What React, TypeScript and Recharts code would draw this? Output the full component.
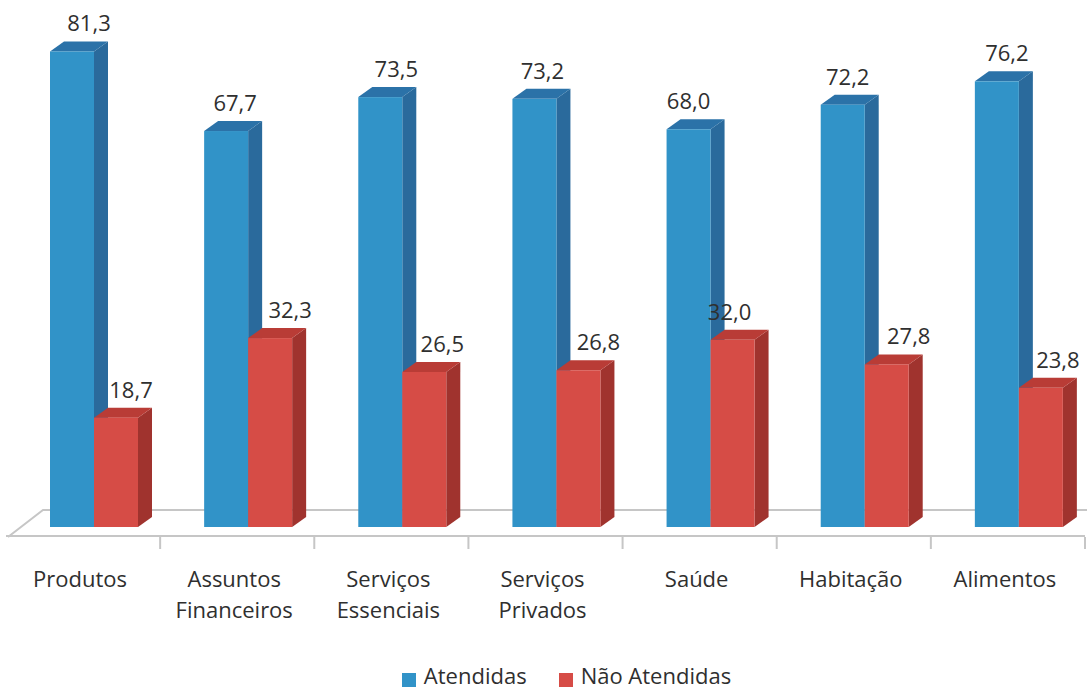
import { BarChart, Bar, XAxis, YAxis, Legend, LabelList, Customized } from "recharts";

const categories = ["Produtos", "Assuntos Financeiros", "Serviços Essenciais", "Serviços Privados", "Saúde", "Habitação", "Alimentos"];
const atendidas = [81.3, 67.7, 73.5, 73.2, 68.0, 72.2, 76.2];
const naoAtendidas = [18.7, 32.3, 26.5, 26.8, 32.0, 27.8, 23.8];

// the labels in the picture are hand-placed, so each one has its own nudge
const atendidasNudge = [17, 9, 16, 8, 0, 5, 10];
const naoAtendidasNudge = [15, 20, 18, 20, -3, 22, 17];

const data = categories.map((name, i) => ({ name, atendidas: atendidas[i], naoAtendidas: naoAtendidas[i] }));

const W = 1087;
const H = 689;
const AXIS_Y = 537;
const BAND = 154.14;
const FONT = "'Open Sans', sans-serif";
const TEXT = "#2f2f2f";
const GRID = "#c6c6c6";

// the 3d bars sit on the floor, up and right of the axis
const SHIFT_X = 11;
const SHIFT_Y = -9;
const DEPTH_X = 14;
const DEPTH_Y = -10;

function Bar3d({ x, y, width, height, front, top, side }: any) {
  const l = x + SHIFT_X;
  const r = l + width;
  const t = y + SHIFT_Y;
  const b = t + height;
  return (
    <g>
      <polygon points={`${r},${t} ${r + DEPTH_X},${t + DEPTH_Y} ${r + DEPTH_X},${b + DEPTH_Y} ${r},${b}`} fill={side} />
      <polygon points={`${l},${t} ${l + DEPTH_X},${t + DEPTH_Y} ${r + DEPTH_X},${t + DEPTH_Y} ${r},${t}`} fill={top} />
      <rect x={l} y={t} width={width} height={height} fill={front} />
    </g>
  );
}

function Floor() {
  return <polyline points={`8,${AXIS_Y} 43,510 ${W},510`} fill="none" stroke={GRID} strokeWidth={2} />;
}

function CategoryTick({ x, payload }: any) {
  const lines = String(payload.value).split(" ");
  return (
    <g>
      <line x1={x + BAND / 2} x2={x + BAND / 2} y1={AXIS_Y} y2={AXIS_Y + 12} stroke={GRID} strokeWidth={2} />
      {lines.map((line, i) => (
        <text key={line} x={x - 3} y={587 + i * 31} textAnchor="middle" fontFamily={FONT} fontSize={22} fill={TEXT}>
          {line}
        </text>
      ))}
    </g>
  );
}

function valueLabel(nudge: number[]) {
  return ({ x, y, width, value, index }: any) => (
    <text
      x={x + SHIFT_X + width / 2 + nudge[index]}
      y={y + SHIFT_Y - 20}
      textAnchor="middle"
      fontFamily={FONT}
      fontSize={22}
      fill={TEXT}
    >
      {Number(value).toFixed(1).replace(".", ",")}
    </text>
  );
}

export default function App() {
  return (
    <div style={{ position: "absolute", left: 0, top: 0, width: W, height: H, background: "#fff" }}>
      <BarChart
        width={W}
        height={H}
        data={data}
        barSize={44}
        barGap={0}
        margin={{ top: 9.6, right: 2, bottom: 93, left: 6 }}
      >
        <Customized component={Floor} />
        <XAxis
          dataKey="name"
          interval={0}
          tick={CategoryTick}
          tickLine={false}
          axisLine={{ stroke: GRID, strokeWidth: 2 }}
        />
        <YAxis hide domain={[0, 90]} />
        <Legend
          verticalAlign="bottom"
          align="center"
          iconType="square"
          iconSize={14}
          wrapperStyle={{ bottom: -1, paddingLeft: 37 }}
          formatter={(value) => (
            <span style={{ color: TEXT, fontFamily: FONT, fontSize: 22, marginLeft: 4, marginRight: 22 }}>{value}</span>
          )}
        />
        <Bar
          dataKey="atendidas"
          name="Atendidas"
          fill="#3193c8"
          isAnimationActive={false}
          shape={(p: any) => <Bar3d {...p} front="#3193c8" top="#2b72a8" side="#2a6a9c" />}
        >
          <LabelList dataKey="atendidas" content={valueLabel(atendidasNudge)} />
        </Bar>
        <Bar
          dataKey="naoAtendidas"
          name="Não Atendidas"
          fill="#d64c46"
          isAnimationActive={false}
          shape={(p: any) => <Bar3d {...p} front="#d64c46" top="#b93c36" side="#a0332e" />}
        >
          <LabelList dataKey="naoAtendidas" content={valueLabel(naoAtendidasNudge)} />
        </Bar>
      </BarChart>
    </div>
  );
}
